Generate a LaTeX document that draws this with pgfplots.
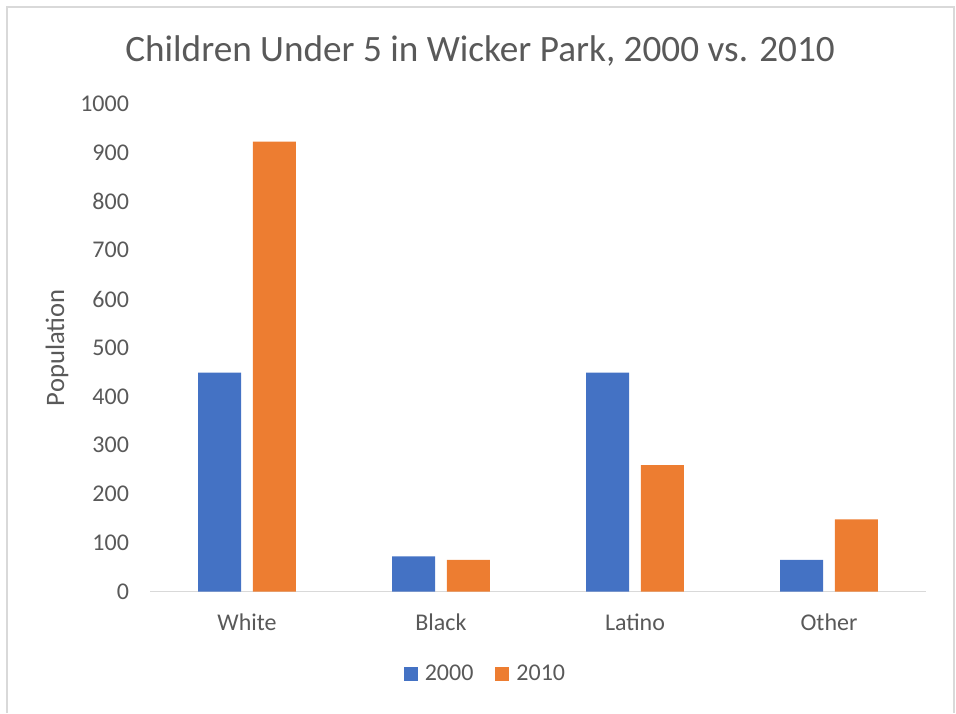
\documentclass[border=0pt]{standalone}
\usepackage{pgfplots}
\pgfplotsset{compat=1.18}
\usepackage{fontspec}
\setmainfont{Carlito}
\definecolor{cblue}{HTML}{4472C4}
\definecolor{corange}{HTML}{ED7D31}
\definecolor{ctext}{HTML}{595959}
\definecolor{caxis}{HTML}{D9D9D9}
\begin{document}
\begin{tikzpicture}[x=1pt,y=1pt]
\useasboundingbox (0,0) rectangle (478,356.5);
\draw[line width=1pt, color=caxis] (3.5,0) -- (3.5,353) -- (477,353) -- (477,0);
\begin{axis}[
  at={(75pt,60.75pt)}, anchor=south west,
  scale only axis, width=388pt, height=243.75pt,
  xmin=-0.5, xmax=3.5, ymin=0, ymax=1000,
  ybar=5.9pt, bar width=21.5pt,
  axis x line*=bottom, axis y line*=left,
  y axis line style={draw=none},
  x axis line style={color=caxis, line width=0.9pt},
  major tick length=0pt,
  xtick={0,1,2,3}, xticklabels={White,Black,Latino,Other},
  ytick={0,100,...,1000},
  /pgf/number format/assume math mode=true,
  /pgf/number format/1000 sep={},
  tick label style={font=\fontsize{12}{14}\selectfont, text=ctext},
  yticklabel style={anchor=east, xshift=-7pt},
  xticklabel style={anchor=base, yshift=-19.25pt},
  ylabel={Population},
  ylabel style={at={(axis description cs:-0.1198,0.5)}, anchor=center, rotate=0, font=\fontsize{13.3}{15}\selectfont, text=ctext},
  title={Children Under 5 in Wicker Park, 2000 vs. 2010},
  title style={at={(axis description cs:0.4253,1.0635)}, anchor=base, font=\fontsize{18.6}{21}\selectfont, text=ctext},
  legend style={at={(axis description cs:0.4336,-0.169)}, anchor=center, legend columns=2, draw=none, fill=none, font=\fontsize{12}{14}\selectfont, text=ctext, /tikz/every even column/.append style={column sep=9pt}, /tikz/every odd column/.append style={column sep=1.5pt}},
  legend image code/.code={\fill[#1] (0pt,-3.5pt) rectangle (7pt,3.5pt);},
]
\addplot[fill=cblue, draw=none] coordinates {(0,449) (1,72) (2,449) (3,65)};
\addplot[fill=corange, draw=none] coordinates {(0,923) (1,65) (2,259) (3,148)};
\legend{2000,2010}
\end{axis}
\end{tikzpicture}
\end{document}
